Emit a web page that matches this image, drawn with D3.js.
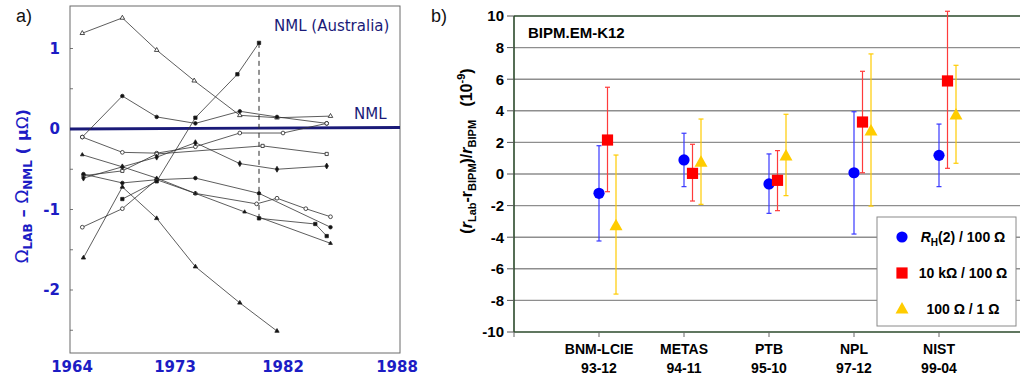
<!DOCTYPE html>
<html><head><meta charset="utf-8">
<script src="https://cdn.jsdelivr.net/npm/d3@7"></script>
<style>body{margin:0;background:#fff}svg{display:block}</style>
</head><body><svg id="c" width="1020" height="381"></svg>
<script>
// ---------- Panel a) data : [year, Ω_LAB − Ω_NML (μΩ)] ----------
const aYearTicks = [1964, 1973, 1982, 1988];
const aValueTicks = [1, 0, -1, -2];
const aMinorTicks = [1, 0.5, 0, -0.5, -1, -1.5, -2, -2.5];
const lab1 = [[1964.9,1.19],[1968.4,1.38],[1971.4,0.98],[1974.6,0.60],[1978.4,0.17],[1981.5,0.14],[1984.5,0.16]];
const lab2 = [[1964.9,-0.10],[1968.4,0.41],[1971.4,0.15],[1974.7,0.07],[1978.4,0.22],[1981.5,0.15],[1984.3,0.07]];
const lab3 = [[1964.9,-0.10],[1968.4,-0.29],[1971.4,-0.30],[1974.7,-0.22],[1978.4,-0.05],[1982.0,-0.05],[1984.3,0.07]];
const lab4 = [[1965.0,-0.58],[1968.4,-0.52],[1971.4,-0.31],[1980.3,-0.21],[1984.3,-0.31]];
const lab5 = [[1965.0,-0.61],[1968.4,-0.47],[1971.4,-0.35],[1974.7,-0.17],[1978.4,-0.43],[1981.5,-0.50],[1984.3,-0.46]];
const lab6 = [[1965.0,-0.56],[1968.4,-0.67],[1971.4,-0.63],[1974.7,-0.61],[1980.0,-0.80],[1984.5,-1.22]];
const lab7 = [[1964.9,-1.22],[1968.4,-0.99],[1971.4,-0.63],[1974.7,-0.80],[1979.8,-0.93],[1981.5,-0.86],[1983.2,-0.99],[1984.5,-1.09]];
const lab8 = [[1964.9,-0.32],[1968.4,-0.47],[1971.4,-0.61],[1974.7,-0.80],[1978.8,-1.03],[1984.5,-1.42]];
const lab9 = [[1965.0,-1.60],[1968.4,-0.72],[1971.4,-1.11],[1974.7,-1.71],[1978.4,-2.16],[1981.5,-2.51]];
const nmlAusBefore = [[1968.4,-0.87],[1971.4,-0.65],[1974.7,0.14],[1978.2,0.68],[1980.0,1.07]];
const nmlAusAfter = [[1980.0,-1.11],[1983.7,-1.18],[1984.3,-1.33]];
const nmlAusStep = [[1980.0,1.07],[1980.0,-1.11]];

// ---------- Panel b) data ----------
const bCategories = ["BNM-LCIE","METAS","PTB","NPL","NIST"];
const bDates = ["93-12","94-11","95-10","97-12","99-04"];
const bTicks = [10,8,6,4,2,0,-2,-4,-6,-8,-10];
const rhVal = [-1.22, 0.89, -0.63, 0.08, 1.18];
const rhLo  = [-4.24, -0.80, -2.49, -3.80, -0.80];
const rhHi  = [1.79, 2.58, 1.27, 3.94, 3.16];
const tenkVal = [2.15, 0.04, -0.40, 3.29, 5.89];
const tenkLo  = [-1.12, -1.71, -2.32, 0.08, 0.36];
const tenkHi  = [5.49, 1.88, 1.48, 6.50, 10.30];
const hundVal = [-3.27, 0.74, 1.14, 2.72, 3.73];
const hundLo  = [-7.60, -1.92, -1.37, -2.03, 0.68];
const hundHi  = [1.20, 3.48, 3.78, 7.60, 6.88];

const svg = d3.select("#c");

// ================= Panel a =================
const xA = d3.scaleLinear().domain(aYearTicks).range([72,175,283,397]);
const yA = d3.scaleLinear().domain([0,1]).range([129,48.5]);
const blueA = "#1c1cc4", navy = "#1a1a78";

const gA = svg.append("g");
gA.append("rect").attr("x",70).attr("y",6).attr("width",330).attr("height",347)
  .attr("fill","none").attr("stroke","#6a6a6a").attr("stroke-width",1);
gA.selectAll(".mt").data(aMinorTicks).join("line")
  .attr("x1",70).attr("x2",73).attr("y1",d=>yA(d)).attr("y2",d=>yA(d))
  .attr("stroke","#555").attr("stroke-width",0.8);
gA.selectAll(".yl").data(aValueTicks).join("text")
  .attr("x",60).attr("y",d=>yA(d)).attr("dy","0.36em").attr("text-anchor","end")
  .attr("font-family","DejaVu Sans").attr("font-weight","bold").attr("font-size",15)
  .attr("fill",blueA).text(d=>d);
gA.selectAll(".xl").data(aYearTicks).join("text")
  .attr("x",d=>xA(d)).attr("y",372).attr("text-anchor","middle")
  .attr("font-family","DejaVu Sans").attr("font-weight","bold").attr("font-size",15)
  .attr("fill",blueA).text(d=>d);

// NML reference line
gA.append("line").attr("x1",70).attr("x2",400).attr("y1",yA(0)).attr("y2",yA(0)-1.5)
  .attr("stroke",navy).attr("stroke-width",2.8);

const line = d3.line().x(d=>xA(d[0])).y(d=>yA(d[1]));
const labs = [lab1,lab2,lab3,lab4,lab5,lab6,lab7,lab8,lab9,nmlAusBefore,nmlAusAfter];
const marks = ["triO","cirF","cirO","sqO","diaF","cirF","cirO","triS","triF","sqF","sqF"];
labs.forEach((s,i)=>{
  gA.append("path").attr("d",line(s)).attr("fill","none")
    .attr("stroke","#333").attr("stroke-width",0.8);
});
gA.append("path").attr("d",line(nmlAusStep)).attr("fill","none")
  .attr("stroke","#2a2a2a").attr("stroke-width",1).attr("stroke-dasharray","5,4");
const symMap = {
  triO:[d3.symbolTriangle,9,false], cirF:[d3.symbolCircle,10,true], cirO:[d3.symbolCircle,11,false],
  sqO:[d3.symbolSquare,10,false], diaF:[d3.symbolDiamond,10,true], triS:[d3.symbolTriangle,6,true],
  triF:[d3.symbolTriangle,8,true], sqF:[d3.symbolSquare,11,true]
};
labs.forEach((s,i)=>{
  const [t,sz,filled] = symMap[marks[i]];
  gA.selectAll(null).data(s).join("path")
    .attr("transform",d=>`translate(${xA(d[0])},${yA(d[1])})`)
    .attr("d",d3.symbol(t,sz)())
    .attr("fill",filled?"#111":"#fff").attr("stroke","#222").attr("stroke-width",0.8);
});

gA.append("text").attr("x",274).attr("y",31).attr("font-family","DejaVu Sans")
  .attr("font-size",15).attr("fill",navy).text("NML (Australia)");
gA.append("text").attr("x",354).attr("y",119).attr("font-family","DejaVu Sans")
  .attr("font-size",15).attr("fill",navy).text("NML");
svg.append("text").attr("x",16).attr("y",22).attr("font-family","Liberation Sans")
  .attr("font-size",18).attr("fill","#111").text("a)");

// y label a
const yla = svg.append("text").attr("transform","translate(28,186) rotate(-90)")
  .attr("text-anchor","middle").attr("font-family","DejaVu Sans").attr("font-weight","bold")
  .attr("font-size",16.5).attr("fill",blueA).style("white-space","pre");
yla.append("tspan").attr("font-weight","normal").attr("font-size",18).text("Ω");
yla.append("tspan").attr("font-size",12).attr("dy",4).text("LAB");
yla.append("tspan").attr("dy",-4).text(" – ");
yla.append("tspan").attr("font-weight","normal").attr("font-size",18).text("Ω");
yla.append("tspan").attr("font-size",12).attr("dy",4).text("NML");
yla.append("tspan").attr("dy",-4).text(" ( μ");
yla.append("tspan").attr("font-weight","normal").text("Ω");
yla.append("tspan").text(")");

// ================= Panel b =================
const x0 = 514, yTop = 16, yBot = 332;
const xB = d3.scalePoint().domain(bCategories).range([x0, x0+85*6]).padding(1);
const yB = d3.scaleLinear().domain([-10,10]).range([yBot,yTop]);
const gB = svg.append("g");
const frameC = "#2b4a2b";

gB.selectAll(".grid").data(bTicks.filter(d=>d>-10 && d<10)).join("line")
  .attr("x1",x0).attr("x2",1020).attr("y1",d=>yB(d)).attr("y2",d=>yB(d))
  .attr("stroke","#8e8e8e").attr("stroke-width",1.4);
gB.append("line").attr("x1",x0).attr("x2",1020).attr("y1",yB(10)).attr("y2",yB(10))
  .attr("stroke",frameC).attr("stroke-width",1.6);
gB.append("line").attr("x1",x0).attr("x2",1020).attr("y1",yBot).attr("y2",yBot)
  .attr("stroke",frameC).attr("stroke-width",1.6);
gB.append("line").attr("x1",x0).attr("x2",x0).attr("y1",yTop).attr("y2",yBot)
  .attr("stroke",frameC).attr("stroke-width",1.6);
gB.selectAll(".yt").data(bTicks).join("line")
  .attr("x1",x0-7).attr("x2",x0).attr("y1",d=>yB(d)).attr("y2",d=>yB(d))
  .attr("stroke","#555").attr("stroke-width",1);
gB.selectAll(".ytl").data(bTicks).join("text")
  .attr("x",504).attr("y",d=>yB(d)).attr("dy","0.36em").attr("text-anchor","end")
  .attr("font-family","Liberation Sans").attr("font-weight","bold").attr("font-size",15)
  .attr("fill","#000").text(d=>d);
gB.selectAll(".xt").data([null,...bCategories]).join("line")
  .attr("x1",d=>d?xB(d):x0).attr("x2",d=>d?xB(d):x0).attr("y1",yBot).attr("y2",yBot+5)
  .attr("stroke","#666").attr("stroke-width",1);
gB.selectAll(".xl1").data(bCategories).join("text")
  .attr("x",d=>xB(d)).attr("y",354).attr("text-anchor","middle")
  .attr("font-family","Liberation Sans").attr("font-weight","bold").attr("font-size",14)
  .text(d=>d);
gB.selectAll(".xl2").data(bCategories).join("text")
  .attr("x",d=>xB(d)).attr("y",373).attr("text-anchor","middle")
  .attr("font-family","Liberation Sans").attr("font-weight","bold").attr("font-size",14)
  .text((d,i)=>bDates[i]);

const bSeries = [
  {val:rhVal, lo:rhLo, hi:rhHi, off:0, col:"#0000ff", ecol:"#3838ff", shape:"circle"},
  {val:tenkVal, lo:tenkLo, hi:tenkHi, off:8.5, col:"#ff0000", ecol:"#ff3b3b", shape:"square"},
  {val:hundVal, lo:hundLo, hi:hundHi, off:17, col:"#ffcc00", ecol:"#ffcc00", shape:"triangle"}
];
function marker(g, shape, x, y, col){
  if(shape==="circle") g.append("circle").attr("cx",x).attr("cy",y).attr("r",5.6).attr("fill",col);
  else if(shape==="square") g.append("rect").attr("x",x-5.6).attr("y",y-5.6).attr("width",11.2).attr("height",11.2).attr("fill",col);
  else g.append("path").attr("d",`M${x},${y-7}L${x+6.5},${y+4.5}L${x-6.5},${y+4.5}Z`).attr("fill",col);
}
bSeries.forEach(s=>{
  bCategories.forEach((c,i)=>{
    const x = xB(c)+s.off;
    gB.append("line").attr("x1",x).attr("x2",x).attr("y1",yB(s.lo[i])).attr("y2",yB(s.hi[i]))
      .attr("stroke",s.ecol).attr("stroke-width",1.2);
    [s.lo[i],s.hi[i]].forEach(v=>{
      gB.append("line").attr("x1",x-2.5).attr("x2",x+2.5).attr("y1",yB(v)).attr("y2",yB(v))
        .attr("stroke",s.ecol).attr("stroke-width",1.2);
    });
  });
});
bSeries.forEach(s=>{
  bCategories.forEach((c,i)=>marker(gB, s.shape, xB(c)+s.off, yB(s.val[i]), s.col));
});

gB.append("text").attr("x",528).attr("y",38).attr("font-family","Liberation Sans")
  .attr("font-weight","bold").attr("font-size",15).text("BIPM.EM-K12");
svg.append("text").attr("x",431).attr("y",22).attr("font-family","Liberation Sans")
  .attr("font-size",18).attr("fill","#111").text("b)");

// legend
const lg = gB.append("g");
lg.append("rect").attr("x",877).attr("y",217).attr("width",139).attr("height",109)
  .attr("fill","#fff").attr("stroke","#8a8a8a").attr("stroke-width",1);
const legY = [237, 273, 309];
bSeries.forEach((s,i)=>marker(lg, s.shape, 902, legY[i], s.col));
const lt = (i)=>lg.append("text").attr("x",963).attr("y",legY[i]).attr("dy","0.36em")
  .attr("text-anchor","middle").attr("font-family","Liberation Sans").attr("font-weight","bold")
  .attr("font-size",14).style("white-space","pre");
const t0 = lt(0);
t0.append("tspan").attr("font-style","italic").text("R");
t0.append("tspan").attr("font-size",10).attr("dy",4).text("H");
t0.append("tspan").attr("dy",-4).text("(2) / 100 Ω");
lt(1).text("10 kΩ / 100 Ω");
lt(2).text("100 Ω / 1 Ω");

// y label b
const ylb = svg.append("text").attr("transform","translate(472,151) rotate(-90)")
  .attr("text-anchor","middle").attr("font-family","Liberation Sans").attr("font-weight","bold")
  .attr("font-size",16).attr("fill","#000").style("white-space","pre");
ylb.append("tspan").text("(");
ylb.append("tspan").attr("font-style","italic").text("r");
ylb.append("tspan").attr("font-size",11).attr("dy",4).text("Lab");
ylb.append("tspan").attr("dy",-4).text("-r");
ylb.append("tspan").attr("font-size",11).attr("dy",4).text("BIPM");
ylb.append("tspan").attr("dy",-4).text(")/");
ylb.append("tspan").attr("font-style","italic").text("r");
ylb.append("tspan").attr("font-size",11).attr("dy",4).text("BIPM");
ylb.append("tspan").attr("dy",-4).text("   (10");
ylb.append("tspan").attr("font-size",11).attr("dy",-7).text("-9");
ylb.append("tspan").attr("dy",7).text(")");
</script></body></html>
